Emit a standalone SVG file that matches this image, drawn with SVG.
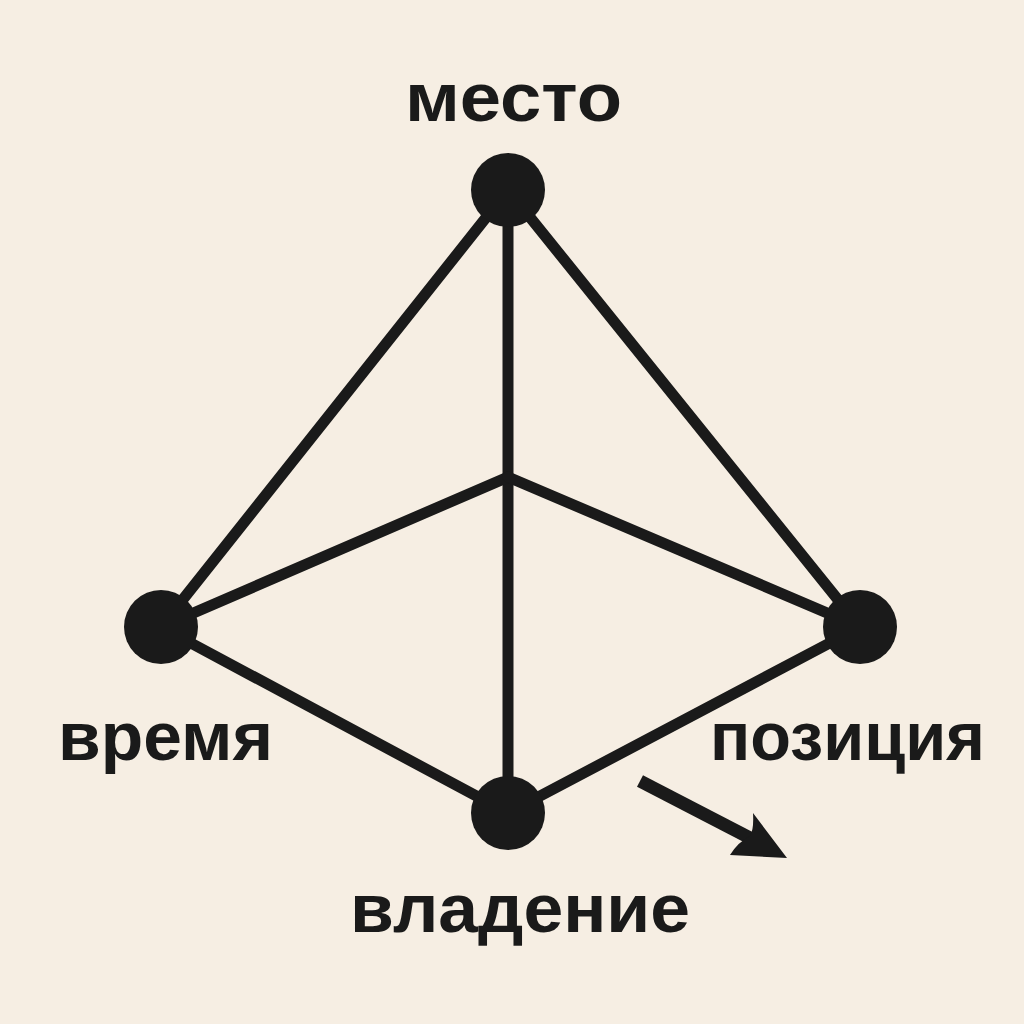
<svg xmlns="http://www.w3.org/2000/svg" width="1024" height="1024" viewBox="0 0 1024 1024">
<style>
.edge{stroke:#1a1a1a;stroke-width:11;stroke-linecap:round;fill:none}
.node{fill:#1a1a1a}
.lbl{font-family:"Liberation Sans",Arial,sans-serif;font-weight:bold;font-size:68px;fill:#1a1a1a}
</style>
<rect width="1024" height="1024" fill="#F6EEE3"/>
<g id="connectors">
<line class="edge" x1="508" y1="190" x2="161" y2="627"/>
<line class="edge" x1="508" y1="190" x2="860" y2="627"/>
<line class="edge" x1="508" y1="190" x2="508" y2="813"/>
<line class="edge" x1="161" y1="627" x2="508" y2="477"/>
<line class="edge" x1="508" y1="477" x2="860" y2="627"/>
<line class="edge" x1="161" y1="627" x2="508" y2="813"/>
<line class="edge" x1="508" y1="813" x2="860" y2="627"/>
<g id="arrow">
<line x1="640" y1="781" x2="752" y2="839" stroke="#1a1a1a" stroke-width="13"/>
<path d="M787,858 L753,813 Q754,830 750,836 Q738,842 730,855 Z" fill="#1a1a1a"/>
</g>
</g>
<g id="node-mesto">
<circle class="node" cx="508" cy="190" r="37"/>
<text class="lbl" x="405" y="121" textLength="217" lengthAdjust="spacingAndGlyphs">место</text>
</g>
<g id="node-vremya">
<circle class="node" cx="161" cy="627" r="37"/>
<text class="lbl" x="58" y="760" textLength="215" lengthAdjust="spacingAndGlyphs">время</text>
</g>
<g id="node-pozitsiya">
<circle class="node" cx="860" cy="627" r="37"/>
<text class="lbl" x="710" y="760" textLength="275" lengthAdjust="spacingAndGlyphs">позиция</text>
</g>
<g id="node-vladenie">
<circle class="node" cx="508" cy="813" r="37"/>
<text class="lbl" x="350" y="932" textLength="340" lengthAdjust="spacingAndGlyphs">владение</text>
</g>
</svg>
